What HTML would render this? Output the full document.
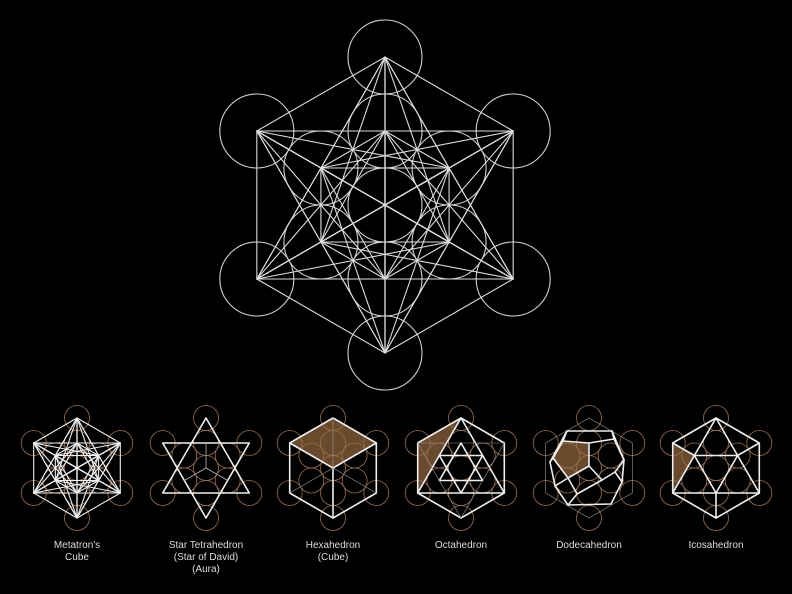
<!DOCTYPE html>
<html><head><meta charset="utf-8">
<style>
html,body{margin:0;padding:0;background:#000;width:792px;height:594px;overflow:hidden}
svg{display:block}
text{font-family:"Liberation Sans",sans-serif;font-size:10px;fill:#ddd;text-anchor:middle;font-weight:500}
</style></head>
<body>
<svg id="s" width="792" height="594" viewBox="0 0 792 594" xmlns="http://www.w3.org/2000/svg">
<rect width="792" height="594" fill="#000"/>
<g id="g"></g>
<text x="77" y="548">Metatron's</text><text x="77" y="560">Cube</text>
<text x="206" y="548">Star Tetrahedron</text><text x="206" y="560">(Star of David)</text><text x="206" y="572">(Aura)</text>
<text x="333" y="548">Hexahedron</text><text x="333" y="560">(Cube)</text>
<text x="461" y="548">Octahedron</text>
<text x="589" y="548">Dodecahedron</text>
<text x="716" y="548">Icosahedron</text>
</svg>
<script>
const g=document.getElementById('g');let h='';
function pts(cx,cy,R){const p=[[cx,cy]];for(const r of [R/2,R])for(let i=0;i<6;i++){const a=(-90+60*i)*Math.PI/180;p.push([cx+r*Math.cos(a),cy+r*Math.sin(a)]);}return p;}
function line(a,b,c,w){h+=`<line x1="${a[0]}" y1="${a[1]}" x2="${b[0]}" y2="${b[1]}" stroke="${c}" stroke-width="${w}" stroke-linecap="round"/>`;}
function poly(arr,st,w,fill){h+=`<polygon points="${arr.map(p=>p.join(',')).join(' ')}" stroke="${st}" stroke-width="${w}" fill="${fill||'none'}" stroke-linejoin="round"/>`;}
function circ(p,r,c,w){h+=`<circle cx="${p[0]}" cy="${p[1]}" r="${r}" stroke="${c}" stroke-width="${w}" fill="none"/>`;}
let P=pts(385,205,148);
P.forEach(p=>circ(p,37,'#cfcfcf',1.1));
for(let i=0;i<13;i++)for(let j=i+1;j<13;j++)line(P[i],P[j],'#dcdcdc',1.1);
const cxs=[77,206,333,461,589,716],cy=468,R=50,W='#eee',SW=1.6,BR='#6a4a2c',OC='#9a7048';
cxs.forEach((cx,k)=>{
 const p=pts(cx,cy,R);
 const C=p[0],I=p.slice(1,7),O=p.slice(7,13);
 const rel=(x,y)=>[cx+x,cy+y];
 const face=[rel(-36,-10),rel(-26,-27),rel(0,-25),rel(0,-2),rel(-21,10)];
 if(k==2)poly([O[0],O[1],C,O[5]],'none',0,BR);
 if(k==3)poly([O[5],O[0],O[4]],'none',0,BR);
 if(k==4)poly(face,'none',0,BR);
 if(k==5)poly([O[5],rel(-21.6,-12.5),O[4]],'none',0,BR);
 p.forEach(q=>circ(q,12.5,OC,0.8));
 if(k==0){for(let i=0;i<13;i++)for(let j=i+1;j<13;j++)line(p[i],p[j],W,1.1);}
 if(k==1){poly([O[0],O[2],O[4]],W,SW);poly([O[5],O[1],O[3]],W,SW);
   line(C,I[0],'#bbb',0.8);line(C,I[2],'#bbb',0.8);line(C,I[4],'#bbb',0.8);}
 if(k==2){poly(O,W,SW);line(C,O[1],W,SW);line(C,O[5],W,SW);line(C,O[3],W,SW);
   line(C,O[2],'#999',0.6);line(C,O[4],'#999',0.6);line(C,O[0],'#999',0.6);}
 if(k==3){poly(O,W,SW);poly([O[0],O[2],O[4]],W,SW);poly([I[0],I[2],I[4]],W,SW);poly([I[5],I[1],I[3]],W,SW);
   poly([O[5],O[1],O[3]],'#999',0.6);}
 if(k==4){poly(O,'#999',0.6);
   const A=rel(-22,-37),B=rel(23,-37),Cc=rel(35,-8),D=rel(33,14),E=rel(22,36),F=rel(-21,37),G=rel(-34,18),H=rel(-39,-6);
   poly([A,B,Cc,D,E,F,G,H],W,SW);poly(face,W,SW);
   const Q1=rel(25,-29),R1=rel(13,12),R2=rel(-12,26),S1=rel(26,4);
   line(face[1],A,W,SW);line(face[0],H,W,SW);line(face[2],Q1,W,SW);line(Q1,B,W,SW);line(Q1,Cc,W,SW);
   line(face[3],R1,W,SW);line(R1,S1,W,SW);line(S1,D,W,SW);line(S1,Cc,W,SW);
   line(R1,R2,W,SW);line(R2,face[4],W,SW);line(R2,F,W,SW);line(face[4],G,W,SW);}
 if(k==5){poly(O,W,SW);const a=rel(-21.6,-12.5),b=rel(21.6,-12.5),c=rel(0,25);
   poly([a,b,c],W,SW);line(O[0],a,W,SW);line(O[0],b,W,SW);line(O[5],a,W,SW);line(O[4],a,W,SW);line(O[4],c,W,SW);
   line(O[3],c,W,SW);line(O[2],c,W,SW);line(O[2],b,W,SW);line(O[1],b,W,SW);}
});
g.innerHTML=h;
</script>
</body></html>
